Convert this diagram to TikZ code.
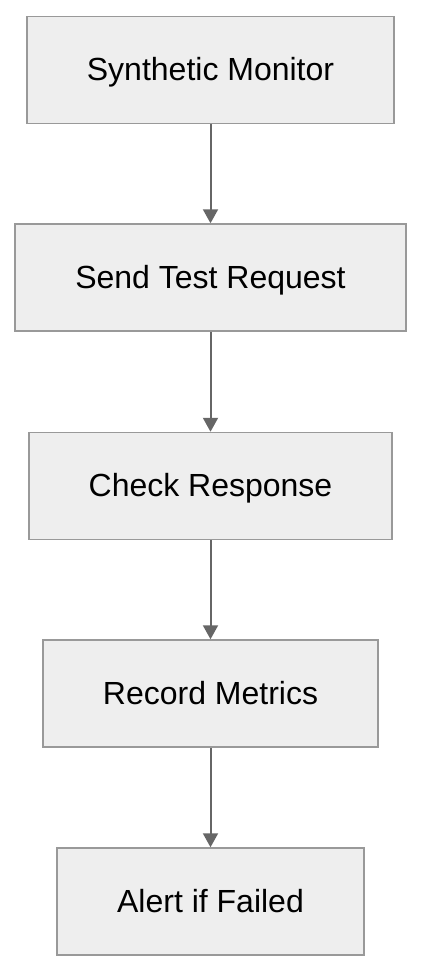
\documentclass[tikz,border=0pt]{standalone}
\usepackage{fontspec}
\setmainfont{Liberation Sans}
\usepackage{tikz}
\usetikzlibrary{arrows.meta,positioning}

\definecolor{boxfill}{HTML}{EEEEEE}
\definecolor{boxline}{HTML}{999999}
\definecolor{arrline}{HTML}{666666}

\begin{document}
\begin{tikzpicture}[
    x=1pt, y=-1pt,
    box/.style={draw=boxline, line width=1.5pt, fill=boxfill, minimum height=107pt, align=center, font=\fontsize{32}{38}\selectfont, inner sep=0pt, text height=21pt, text depth=0pt},
    arr/.style={-{Triangle[length=14pt,width=15pt]}, draw=arrline, fill=arrline, line width=2pt}
]
\useasboundingbox (0,0) rectangle (422,972);
\node[box, minimum width=367pt] (monitor) at (210.5,70) {Synthetic Monitor};
\node[box, minimum width=391pt] (request) at (210.5,277.5) {Send Test Request};
\node[box, minimum width=363pt] (response) at (210.5,486) {Check Response};
\node[box, minimum width=335pt] (metrics) at (210.5,693.5) {Record Metrics};
\node[box, minimum width=307pt] (alert) at (210.5,901.5) {Alert if Failed};

\draw[arr] (monitor) -- (request);
\draw[arr] (request) -- (response);
\draw[arr] (response) -- (metrics);
\draw[arr] (metrics) -- (alert);
\end{tikzpicture}
\end{document}
